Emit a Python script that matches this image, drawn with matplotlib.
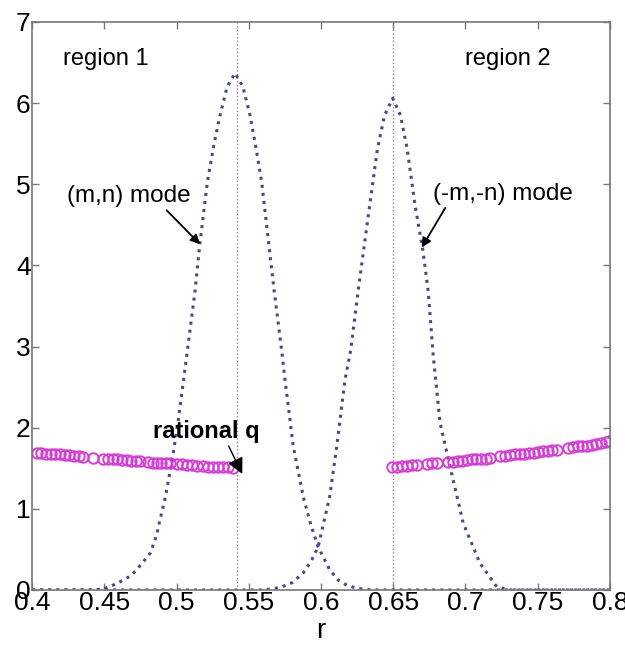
import numpy as np
from matplotlib import pyplot as plt

# (m,n) mode profile, region 1
r_mode1 = [0.400, 0.440, 0.450, 0.4517, 0.455, 0.463, 0.4678, 0.472, 0.4794, 0.482, 0.4863,
           0.488, 0.492, 0.4967, 0.501, 0.507, 0.5128, 0.516, 0.5213, 0.526, 0.530, 0.535,
           0.5405, 0.546, 0.551, 0.555, 0.559, 0.564, 0.5675, 0.5728, 0.5751, 0.5808,
           0.5877, 0.593, 0.598, 0.606, 0.612, 0.6178, 0.625, 0.635, 0.800]
y_mode1 = [0.0, 0.0, 0.01, 0.03, 0.05, 0.12, 0.17, 0.24, 0.40, 0.46, 0.68,
           0.82, 1.12, 1.57, 2.06, 2.88, 3.68, 4.24, 5.02, 5.50, 5.84, 6.20,
           6.37, 6.20, 5.84, 5.45, 5.02, 4.24, 3.70, 2.95, 2.59, 1.77,
           1.15, 0.80, 0.53, 0.25, 0.12, 0.06, 0.02, 0.0, 0.0]

# (-m,-n) mode profile, region 2
r_mode2 = [0.400, 0.560, 0.5716, 0.580, 0.5877, 0.593, 0.598, 0.606, 0.6109, 0.6166,
           0.6205, 0.6258, 0.6327, 0.639, 0.644, 0.6496, 0.655, 0.6597, 0.665, 0.6704,
           0.6742, 0.6777, 0.6824, 0.6893, 0.6985, 0.710, 0.7216, 0.730, 0.800]
y_mode2 = [0.0, 0.0, 0.03, 0.09, 0.21, 0.35, 0.53, 1.15, 1.77, 2.59,
           2.95, 3.70, 4.61, 5.43, 5.85, 6.06, 5.85, 5.43, 4.75, 4.20,
           3.68, 2.88, 2.06, 1.52, 0.82, 0.33, 0.04, 0.0, 0.0]

# rational q surfaces
r_q1 = [0.4032, 0.4065, 0.4097, 0.4129, 0.4161, 0.4194, 0.4226, 0.4258, 0.4291, 0.4323, 0.4355,
        0.4424,
        0.4494, 0.4526, 0.4558, 0.4591, 0.4623, 0.4655, 0.4687, 0.4720, 0.4747,
        0.4805, 0.4835, 0.4865, 0.4895, 0.4925, 0.4955,
        0.5001, 0.5036, 0.5070, 0.5105, 0.5140,
        0.5186, 0.5220, 0.5255, 0.5289, 0.5324, 0.5359,
        0.5392]
q1 = [1.69, 1.69, 1.68, 1.68, 1.67, 1.67, 1.66, 1.66, 1.65, 1.65, 1.64,
      1.63,
      1.62, 1.62, 1.61, 1.61, 1.60, 1.60, 1.59, 1.59, 1.59,
      1.58, 1.57, 1.57, 1.56, 1.56, 1.56,
      1.55, 1.55, 1.54, 1.54, 1.53,
      1.53, 1.52, 1.52, 1.51, 1.51, 1.51,
      1.50]

r_q2 = [0.6489, 0.6524, 0.6558, 0.6593, 0.6627, 0.6662,
        0.6731, 0.6766, 0.6800,
        0.6881, 0.6913, 0.6946, 0.6978, 0.7010, 0.7043, 0.7075, 0.7107, 0.7140, 0.7172,
        0.7239, 0.7273, 0.7308, 0.7343, 0.7375, 0.7408, 0.7439, 0.7472, 0.7504, 0.7536,
        0.7569, 0.7601, 0.7633,
        0.7712, 0.7744, 0.7776, 0.7809, 0.7841, 0.7873, 0.7906, 0.7938, 0.7970, 0.7995]
q2 = [1.52, 1.52, 1.53, 1.53, 1.54, 1.54,
      1.55, 1.56, 1.56,
      1.58, 1.58, 1.59, 1.59, 1.60, 1.61, 1.61, 1.62, 1.62, 1.63,
      1.65, 1.65, 1.66, 1.67, 1.67, 1.68, 1.69, 1.69, 1.70, 1.71,
      1.71, 1.72, 1.73,
      1.75, 1.76, 1.77, 1.77, 1.78, 1.79, 1.80, 1.81, 1.82, 1.84]

r_surf = [0.542, 0.65]  # resonant surfaces

plt.rcParams['font.family'] = ['Liberation Sans', 'DejaVu Sans']

fig = plt.figure(figsize=(6.25, 6.46), dpi=100)
ax = fig.add_axes([0.0512, 0.0867, 0.9248, 0.8793])

for rs in r_surf:
    ax.axvline(rs, color='#8a8a8a', linestyle=':', linewidth=1.0)

ax.plot(r_mode1, y_mode1, linestyle=':', color='#45459a', linewidth=2.2)
ax.plot(r_mode2, y_mode2, linestyle=':', color='#45459a', linewidth=2.2)

ax.plot(r_q1, q1, 'o', markerfacecolor='none', markeredgecolor='#d63cd6',
        markersize=7.5, markeredgewidth=1.4)
ax.plot(r_q2, q2, 'o', markerfacecolor='none', markeredgecolor='#d63cd6',
        markersize=7.5, markeredgewidth=1.4)

ax.text(0.4215, 6.54, 'region 1', fontsize=17, va='center', ha='left')
ax.text(0.6997, 6.54, 'region 2', fontsize=17, va='center', ha='left')

ax.annotate('(m,n) mode', xy=(0.5163, 4.26), xytext=(0.4245, 4.85),
            fontsize=17.5, va='center', ha='left',
            arrowprops=dict(arrowstyle='-|>', color='black', lw=1.3,
                            shrinkA=0, shrinkB=0, mutation_scale=14,
                            relpos=(0.78, 0.0)))
ax.annotate('(-m,-n) mode', xy=(0.6697, 4.22), xytext=(0.6775, 4.88),
            fontsize=17.5, va='center', ha='left',
            arrowprops=dict(arrowstyle='-|>', color='black', lw=1.3,
                            shrinkA=0, shrinkB=0, mutation_scale=14,
                            relpos=(0.1, 0.0)))
ax.annotate('rational q', xy=(0.5455, 1.43), xytext=(0.4835, 1.95),
            fontsize=17, fontweight='bold', va='center', ha='left',
            arrowprops=dict(arrowstyle='-|>', color='black', lw=1.0,
                            shrinkA=0, shrinkB=0, mutation_scale=24,
                            relpos=(0.7, 0.0)))

ax.set_xlim(0.4, 0.8)
ax.set_ylim(0, 7)
ax.set_xticks([0.4, 0.45, 0.5, 0.55, 0.6, 0.65, 0.7, 0.75, 0.8])
ax.set_xticklabels(['0.4', '0.45', '0.5', '0.55', '0.6', '0.65', '0.7', '0.75', '0.8'])
ax.set_yticks(range(8))
ax.tick_params(direction='in', length=5, width=1, color='#777777',
               top=True, right=True, labelsize=19, pad=1)
for s in ax.spines.values():
    s.set_color('#777777')
    s.set_linewidth(1.2)
ax.set_xlabel('r', fontsize=20, labelpad=2)

fig.savefig('out.png', dpi=100)
